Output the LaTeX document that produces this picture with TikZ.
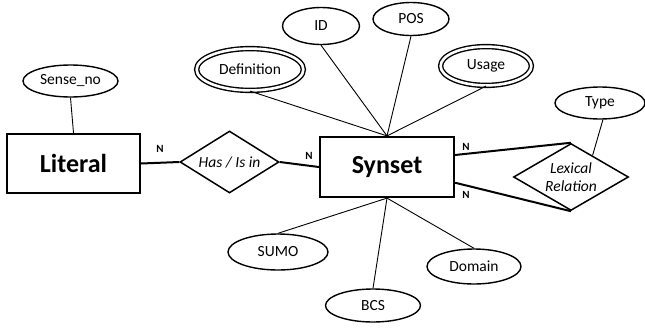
\documentclass[tikz,border=0pt]{standalone}
\usepackage{fontspec}
\setmainfont{Carlito}
\usepackage{tikz}
\usetikzlibrary{shapes.geometric}
\tikzset{
  erentity/.style={draw=black,line width=2.2pt,rectangle,minimum width=133pt,minimum height=59pt,inner sep=2pt,font=\fontsize{26}{30}\selectfont\bfseries},
  erattr/.style={draw=black,line width=1.4pt,ellipse,inner sep=0pt,font=\fontsize{15.5}{17}\selectfont},
  ermulti/.style={erattr,double,double distance=2.6pt},
  errelation/.style={draw=black,line width=1.5pt,diamond,shape aspect=1.6,inner sep=0pt,align=center,font=\fontsize{15.5}{18}\selectfont\itshape},
  erlink/.style={line width=0.9pt,draw=black},
  erjoin/.style={line width=2pt,draw=black},
  ercard/.style={inner sep=0pt,font=\fontsize{11}{13}\selectfont\bfseries}
}
\begin{document}
\begin{tikzpicture}[x=1pt,y=-1pt]
  \useasboundingbox[fill=white] (0,0) rectangle (645,327);
  % entities and relationships
  \node[erentity] (literal) at (73.5,163.5) {Literal};
  \node[erentity,minimum width=134pt,minimum height=60pt] (synset) at (387,167) {Synset};
  \node[errelation,minimum width=99pt,minimum height=62pt] (hasisin) at (229.5,162) {Has / Is in};
  \node[errelation,minimum width=115pt,minimum height=67pt] (lexrel) at (571,177) {Lexical\\Relation};
  % attributes
  \node[erattr,minimum width=95pt,minimum height=32pt] (senseno) at (70.5,81) {Sense\_no};
  \node[ermulti,minimum width=106.8pt,minimum height=41.8pt] (definition) at (250,69.5) {Definition};
  \node[erattr,minimum width=77pt,minimum height=37pt] (id) at (321,26) {ID};
  \node[erattr,minimum width=76pt,minimum height=33pt] (pos) at (411,19) {POS};
  \node[ermulti,minimum width=90.8pt,minimum height=38.8pt] (usage) at (486,66) {Usage};
  \node[erattr,minimum width=90pt,minimum height=32pt] (type) at (600,103) {Type};
  \node[erattr,minimum width=100pt,minimum height=36pt] (sumo) at (278,252) {SUMO};
  \node[erattr,minimum width=95pt,minimum height=33pt] (bcs) at (373,305.5) {BCS};
  \node[erattr,minimum width=94pt,minimum height=35pt] (domain) at (474,266.5) {Domain};
  % cardinalities
  \node[ercard] (n1) at (160,149) {N};
  \node[ercard] (n2) at (309,156) {N};
  \node[ercard] (n3) at (466,147) {N};
  \node[ercard] (n4) at (466,195) {N};
  % links
  \draw[erlink] (senseno.south) -- (literal.north);
  \draw[erlink] (definition.south) -- (synset.north);
  \draw[erlink] (id.south) -- (synset.north);
  \draw[erlink] (pos.south) -- (synset.north);
  \draw[erlink] (usage.south) -- (synset.north);
  \draw[erlink] (synset.south) -- (sumo.north);
  \draw[erlink] (synset.south) -- (bcs.north);
  \draw[erlink] (synset.south) -- (domain.north);
  \draw[erlink] (type.-80) -- (lexrel.45);
  \draw[erjoin] (literal.east) -- (hasisin.west);
  \draw[erjoin] (hasisin.east) -- (synset.west);
  \draw[erjoin] (synset.10) -- (lexrel.north);
  \draw[erjoin] (synset.-13) -- (lexrel.south);
\end{tikzpicture}
\end{document}
